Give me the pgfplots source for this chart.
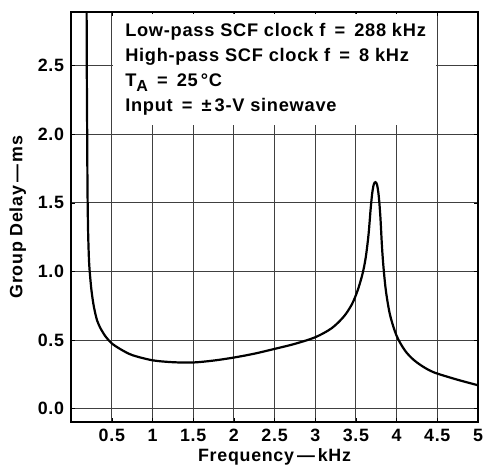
\documentclass[border=0pt]{standalone}
\usepackage{fontspec}
\setmainfont{Liberation Sans}
\usepackage{pgfplots}
\pgfplotsset{compat=1.18}

\newcommand\chartfont{\fontsize{8.9}{9}\selectfont\bfseries\addfontfeatures{LetterSpace=4}}
\newcommand\boxfont{\fontsize{9.1}{12.5}\selectfont\bfseries\addfontfeatures{LetterSpace=4}}
\newcommand\eq{\enspace=\enspace}

\begin{document}
\begin{tikzpicture}
\begin{axis}[
  scale only axis,
  width=203pt, height=204.5pt,
  xmin=0, xmax=5,
  ymin=-0.097, ymax=2.89,
  xtick={0.5,1,...,5},
  ytick={0,0.5,...,2.5},
  yticklabel style={/pgf/number format/.cd,fixed,fixed zerofill,precision=1},
  /pgf/number format/assume math mode=true,
  ticklabel style={font=\chartfont},
  label style={font=\chartfont},
  xlabel={Frequency\,---\,kHz},
  ylabel={Group Delay\,---\,ms},
  xlabel style={yshift=3.5pt},
  ylabel style={yshift=-1pt},
  grid=major,
  grid style={black!75, line width=0.45pt},
  major tick length=2pt,
  tick style={black},
  axis line style={line width=0.8pt},
]
\fill[white] (axis cs:0.52,2.07) rectangle (axis cs:4.48,2.875);
\node[anchor=north west, align=left, font=\boxfont,
      inner sep=0pt] at (axis cs:0.66,2.81)
  {Low-pass SCF clock f\eq 288 kHz\\
   High-pass SCF clock f\eq 8 kHz\\
   T\raisebox{-0.45ex}{\fontsize{8}{8}\selectfont A}\eq 25\,°C\\
   Input\eq ±\,3-V sinewave};
\addplot[black, line width=1.1pt, smooth, tension=0.5] coordinates {
  (0.19,2.92) (0.193,2.4) (0.197,2.0) (0.201,1.6) (0.208,1.3) (0.218,1.1)
  (0.228,1.0) (0.25,0.86) (0.28,0.74) (0.32,0.64) (0.37,0.575) (0.43,0.52)
  (0.5,0.475) (0.6,0.435) (0.75,0.39) (1.0,0.352) (1.25,0.338) (1.5,0.336)
  (1.75,0.35) (2.0,0.372) (2.25,0.40) (2.5,0.435) (2.75,0.472) (3.0,0.52)
  (3.2,0.585) (3.35,0.67) (3.45,0.76) (3.52,0.86) (3.58,0.98) (3.62,1.1)
  (3.655,1.27) (3.68,1.45) (3.70,1.57) (3.72,1.635) (3.74,1.65) (3.76,1.63)
  (3.78,1.55) (3.80,1.4) (3.82,1.18) (3.84,1.02) (3.87,0.85) (3.92,0.68)
  (4.0,0.53) (4.1,0.425) (4.2,0.36) (4.3,0.315) (4.4,0.28) (4.5,0.255)
  (4.75,0.21) (5.0,0.17)
};
\end{axis}
\pgfresetboundingbox
\path[use as bounding box] ([xshift=-35.5pt,yshift=-23pt]current axis.south west)
  rectangle ([xshift=2.5pt,yshift=6pt]current axis.north east);
\end{tikzpicture}
\end{document}
